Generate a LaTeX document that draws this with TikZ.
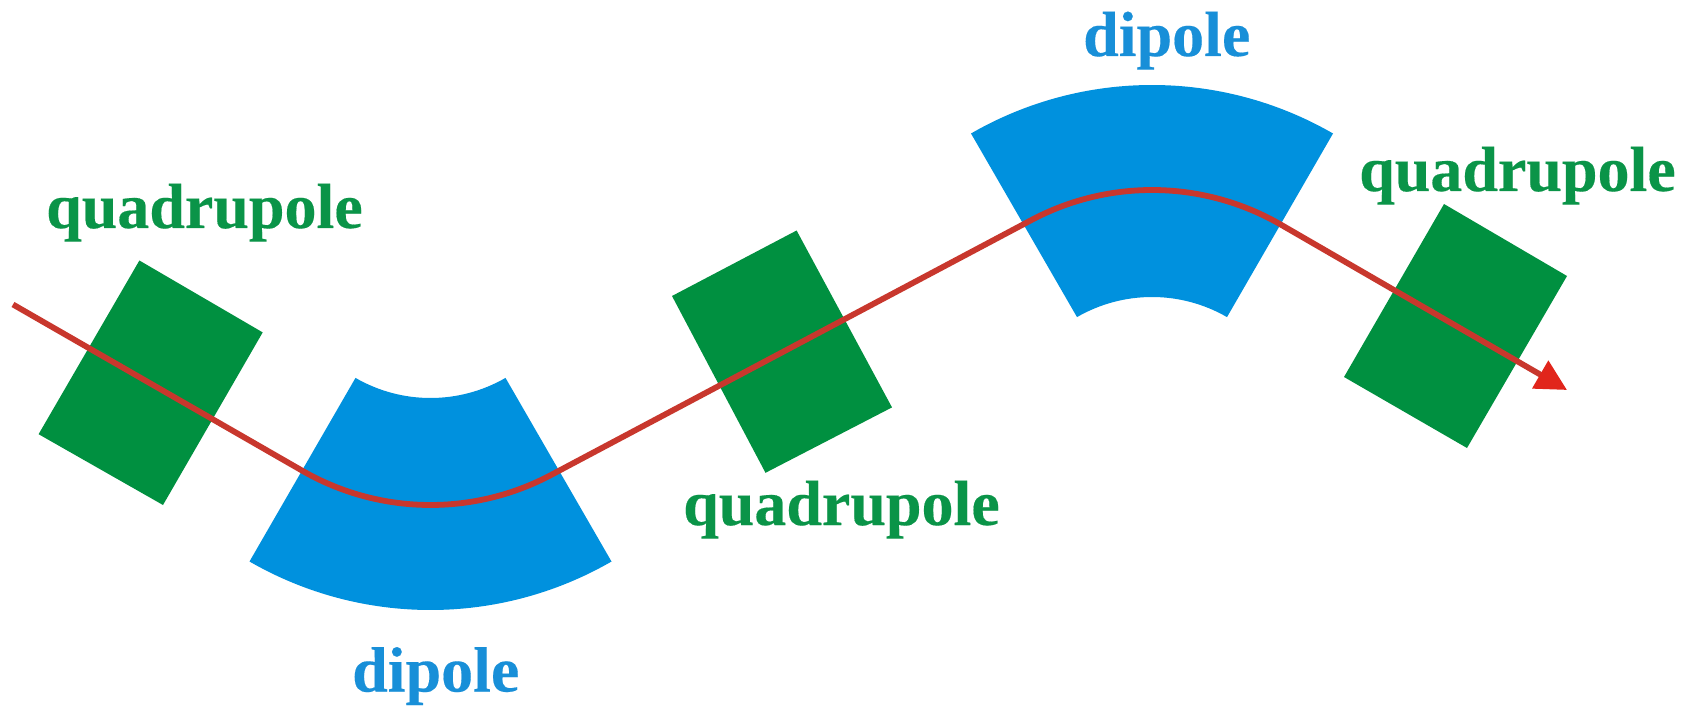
\documentclass[tikz,border=0pt]{standalone}
\usepackage{fontspec}
\setmainfont[BoldFeatures={FakeBold=0.25}]{Liberation Serif}
\usetikzlibrary{arrows.meta}
\definecolor{dipoleblue}{RGB}{0,145,222}
\definecolor{quadgreen}{RGB}{0,144,64}
\definecolor{labelblue}{RGB}{24,143,216}
\definecolor{labelgreen}{RGB}{10,148,72}
\definecolor{beamred}{RGB}{200,55,45}
\definecolor{tipred}{RGB}{225,37,27}
\tikzset{
  quadbox/.style={fill=quadgreen,draw=none},
  dipolebox/.style={fill=dipoleblue,draw=none},
  beam/.style={draw=beamred,line width=5.8pt,line join=round},
  lbl/.style={inner sep=0pt,anchor=base west,font=\fontsize{64}{64}\selectfont\bfseries},
  quadlabel/.style={lbl,text=labelgreen},
  dipolelabel/.style={lbl,text=labelblue}
}
\begin{document}
\begin{tikzpicture}[x=1pt,y=1pt]
\useasboundingbox (0,0) rectangle (1681,705);
\fill[white] (0,0) rectangle (1681,705);
\coordinate (c1) at (430.5,457);
\coordinate (c2) at (1152,258);
\coordinate (start) at (13,400.5);
\coordinate (tip) at (1567,315);
% quadrupoles
\path[quadbox] (139.4,444.5) -- (262.7,372.6) -- (163,200) -- (38.6,270.8) -- cycle;
\path[quadbox] (796.6,474.5) -- (892,297.6) -- (765.5,232.2) -- (672,409) -- cycle;
\path[quadbox] (1444,501) -- (1567,429) -- (1467,257) -- (1344,328) -- cycle;
% dipoles
\path[dipolebox] ([shift={(240:362pt)}]c1) arc[start angle=240,end angle=300,radius=362pt]
  -- ([shift={(300:150pt)}]c1) arc[start angle=300,end angle=240,radius=150pt] -- cycle;
\path[dipolebox] ([shift={(120:362pt)}]c2) arc[start angle=120,end angle=60,radius=362pt]
  -- ([shift={(60:150pt)}]c2) arc[start angle=60,end angle=120,radius=150pt] -- cycle;
% beam
\draw[beam,-{Triangle[length=31pt,width=31pt,color=tipred]}] (start)
  -- ([shift={(240.1:257pt)}]c1) arc[start angle=240.1,end angle=298,radius=257pt]
  -- ([shift={(118:257pt)}]c2) arc[start angle=118,end angle=60,radius=257pt]
  -- (tip);
% labels
\node[quadlabel] (q1) at (46,477) {quadrupole};
\node[quadlabel] (q2) at (683,180) {quadrupole};
\node[quadlabel] (q3) at (1359,514) {quadrupole};
\node[dipolelabel] (d1) at (352,13.5) {dipole};
\node[dipolelabel] (d2) at (1083,649) {dipole};
\end{tikzpicture}
\end{document}
